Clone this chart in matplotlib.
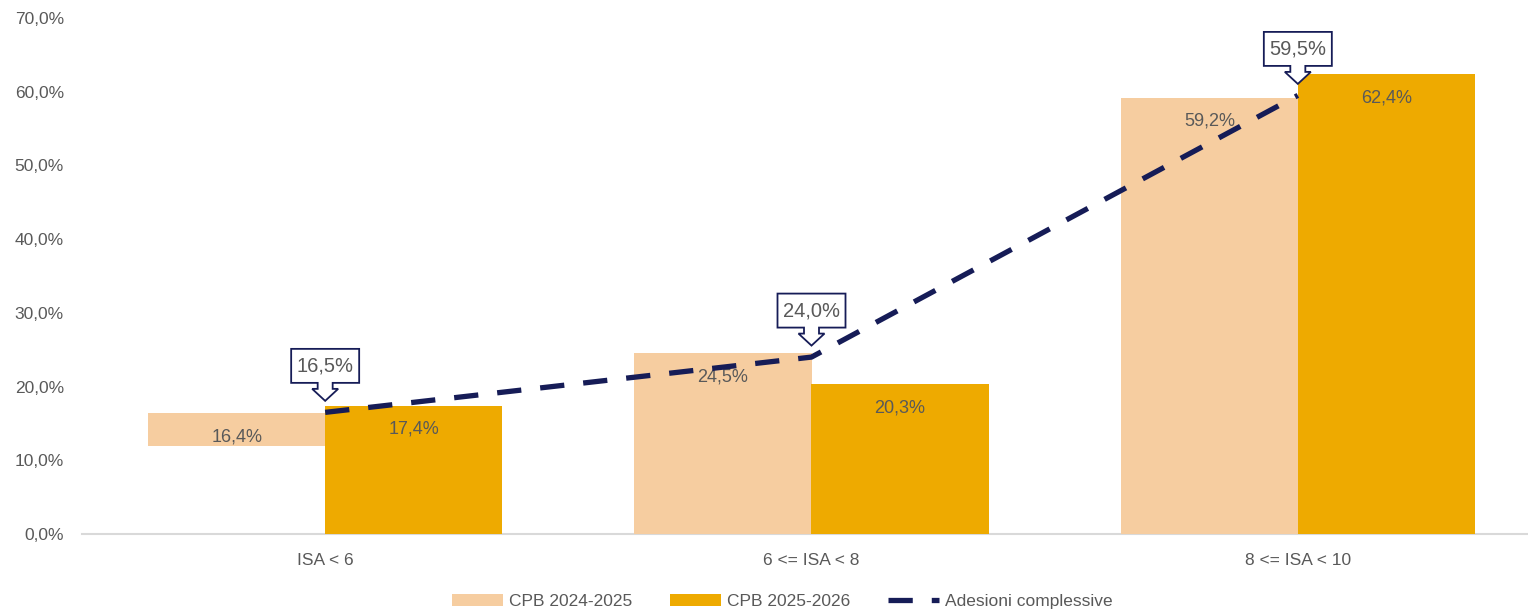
import numpy as np
import matplotlib
matplotlib.use('Agg')
import matplotlib.pyplot as plt
import matplotlib.transforms as mtransforms
from matplotlib.patches import Polygon

plt.rcParams['font.family'] = ['Liberation Sans', 'DejaVu Sans']

# data
categories = ['ISA < 6', '6 <= ISA < 8', '8 <= ISA < 10']
cpb_2024 = [16.4, 24.5, 59.2]
cpb_2024_bottom = [12.0, 0.0, 0.0]   # first bar is only visible from ~12% up in the reference
cpb_2025 = [17.4, 20.3, 62.4]
adesioni = [16.5, 24.0, 59.5]
yticks = [0, 10, 20, 30, 40, 50, 60, 70]

beige = '#F6CDA0'
orange = '#EEAA00'
navy = '#161C57'
grey = '#595959'


def fmt(v):
    return ('%.1f%%' % v).replace('.', ',')


fig = plt.figure(figsize=(15.28, 6.12), dpi=100)
ax = fig.add_axes([82 / 1528, 78 / 612, 1459 / 1528, 516 / 612])

x = np.arange(len(categories))
w = 0.364

h2024 = [v - b for v, b in zip(cpb_2024, cpb_2024_bottom)]
b1 = ax.bar(x - w / 2, h2024, w, bottom=cpb_2024_bottom, color=beige, label='CPB 2024-2025', zorder=2)
b2 = ax.bar(x + w / 2, cpb_2025, w, color=orange, label='CPB 2025-2026', zorder=2)

for xi, v in zip(x - w / 2, cpb_2024):
    ax.annotate(fmt(v), (xi, v), xytext=(0, -17), textcoords='offset points',
                ha='center', va='center', fontsize=13, color=grey, zorder=3)
for xi, v in zip(x + w / 2, cpb_2025):
    ax.annotate(fmt(v), (xi, v), xytext=(0, -17), textcoords='offset points',
                ha='center', va='center', fontsize=13, color=grey, zorder=3)

ax.plot(x, adesioni, color=navy, lw=3.8, ls=(0, (4.6, 3.6)), solid_capstyle='butt',
        dash_capstyle='butt', label='Adesioni complessive', zorder=4)

# callouts (shape in pixels, relative to the data point)
shape = [(0, 11.5), (13, 23.5), (7.5, 23.5), (7.5, 29.5), (34, 29.5), (34, 63.5),
         (-34, 63.5), (-34, 29.5), (-7.5, 29.5), (-7.5, 23.5), (-13, 23.5)]
for xi, v in zip(x, adesioni):
    tr = mtransforms.ScaledTranslation(xi, v, ax.transData)
    ax.add_patch(Polygon(shape, closed=True, facecolor='white', edgecolor=navy,
                         lw=1.3, transform=tr, zorder=5, clip_on=False))
    ax.annotate(fmt(v), (xi, v), xytext=(0, 46.5 * 0.72), textcoords='offset points',
                ha='center', va='center', fontsize=14.5, color=grey, zorder=6)

ax.set_xlim(-0.5, 2.5)
ax.set_ylim(0, 70)
ax.set_yticks(yticks)
ax.set_yticklabels([fmt(t) for t in yticks], fontsize=12.5, color=grey)
ax.set_xticks(x)
ax.set_xticklabels(categories, fontsize=12.5, color=grey)
ax.tick_params(axis='y', length=0, pad=13)
ax.tick_params(axis='x', length=0, pad=14)

for s in ['top', 'right', 'left']:
    ax.spines[s].set_visible(False)
ax.spines['bottom'].set_color('#D9D9D9')
ax.spines['bottom'].set_linewidth(1.5)
ax.spines['bottom'].set_zorder(1)

fig.legend(handles=[b1, b2, ax.lines[0]], loc='center', bbox_to_anchor=(0.512, 0.017),
           ncol=3, frameon=False, fontsize=12.5, labelcolor=grey,
           handlelength=2.9, handleheight=0.7, handletextpad=0.35, columnspacing=2.2)

plt.savefig('out.png', dpi=100)
